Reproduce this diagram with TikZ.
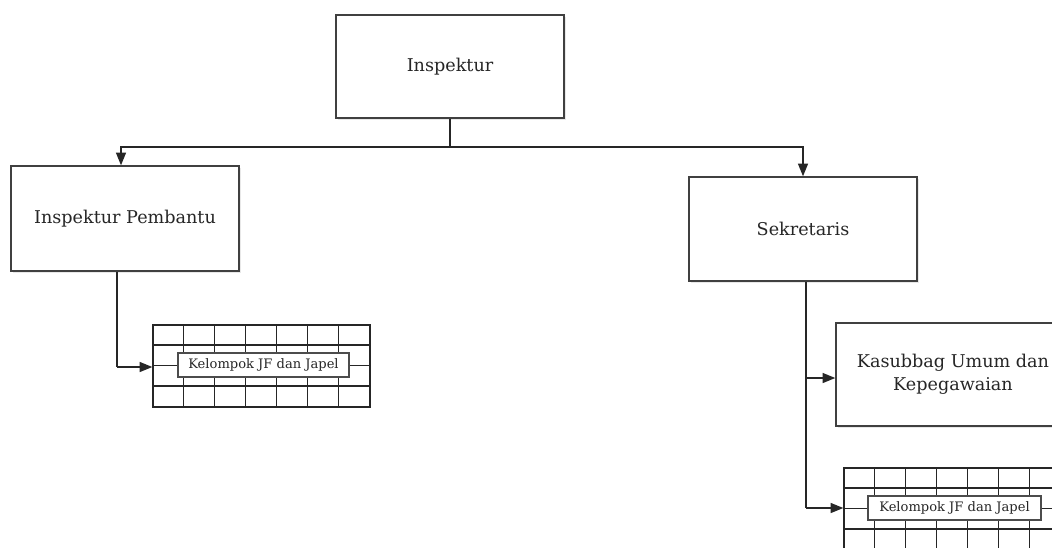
\documentclass[tikz,border=0pt]{standalone}
\usepackage{fontspec}
\setmainfont{DejaVu Serif}
\usetikzlibrary{arrows.meta,shadows,calc}
\begin{document}
\begin{tikzpicture}[x=0.75pt,y=-0.75pt,
  unitbox/.style={draw=black!75,line width=1.1pt,fill=white,rectangle,align=center,
    inner sep=0pt,font=\fontsize{13.2}{17.5}\selectfont,text=black!85,
    drop shadow={opacity=0.18,shadow xshift=1.2pt,shadow yshift=-1.2pt}},
  gridbox/.style={draw=black!85,line width=1.05pt,rectangle,inner sep=0pt},
  gridline/.style={draw=black!85,line width=1.05pt},
  labbox/.style={draw=black!70,line width=0.8pt,fill=white,rectangle,inner sep=0pt,
    font=\fontsize{9.8}{12}\selectfont,text=black!85,
    drop shadow={opacity=0.2,shadow xshift=1pt,shadow yshift=-1pt}},
  conn/.style={draw=black!85,line width=0.95pt},
  arr/.style={conn,-{Triangle[length=9.5pt,width=7.5pt]}}]
\useasboundingbox (0,0) rectangle (1052,547);
\clip (0,0) rectangle (1052,547);
\fill[white] (0,0) rectangle (1052,547);

% main boxes
\node[unitbox,minimum width=171pt,minimum height=77.25pt] (insp) at (450,66.5) {Inspektur};
\node[unitbox,minimum width=171pt,minimum height=78.75pt] (pemb) at (125,218.5) {Inspektur Pembantu};
\node[unitbox,minimum width=171pt,minimum height=78pt] (sek) at (803,229) {Sekretaris};
\node[unitbox,minimum width=175.5pt,minimum height=77.25pt] (kasub) at (953,374.5) {Kasubbag Umum dan\\Kepegawaian};

% table 1
\node[gridbox,minimum width=162.75pt,minimum height=61.5pt] (tab1) at (261.5,366) {};
\foreach \i in {1,...,6} \draw[gridline] ($(tab1.north west)+(31*\i,0)$) -- ($(tab1.south west)+(31*\i,0)$);
\foreach \j in {1,2,3} \draw[gridline] ($(tab1.north west)+(0,20.5*\j)$) -- ($(tab1.north east)+(0,20.5*\j)$);
\node[labbox,minimum width=128.25pt,minimum height=18pt] (lab1) at (263.5,365) {Kelompok JF dan Japel};

% table 2
\node[gridbox,minimum width=162.75pt,minimum height=61.5pt] (tab2) at (952.5,509) {};
\foreach \i in {1,...,6} \draw[gridline] ($(tab2.north west)+(31*\i,0)$) -- ($(tab2.south west)+(31*\i,0)$);
\foreach \j in {1,2,3} \draw[gridline] ($(tab2.north west)+(0,20.5*\j)$) -- ($(tab2.north east)+(0,20.5*\j)$);
\node[labbox,minimum width=129.75pt,minimum height=18pt] (lab2) at (954.5,508) {Kelompok JF dan Japel};

% connectors
\coordinate (j) at (450,147);
\coordinate (s1) at (806,378);
\coordinate (s2) at (806,508);
\coordinate (p1) at (117,367);
\draw[conn] (insp.south) -- (j);
\draw[arr] (j) -| ([xshift=-3pt]pemb.north);
\draw[arr] (j) -| (sek.north);
\draw[conn] ([xshift=-6pt]pemb.south) -- (p1);
\draw[arr] (p1) -- (tab1.west |- p1);
\draw[conn] ([xshift=2.25pt]sek.south) -- (s2);
\draw[arr] (s1) -- (kasub.west |- s1);
\draw[arr] (s2) -- (tab2.west |- s2);
\end{tikzpicture}
\end{document}
